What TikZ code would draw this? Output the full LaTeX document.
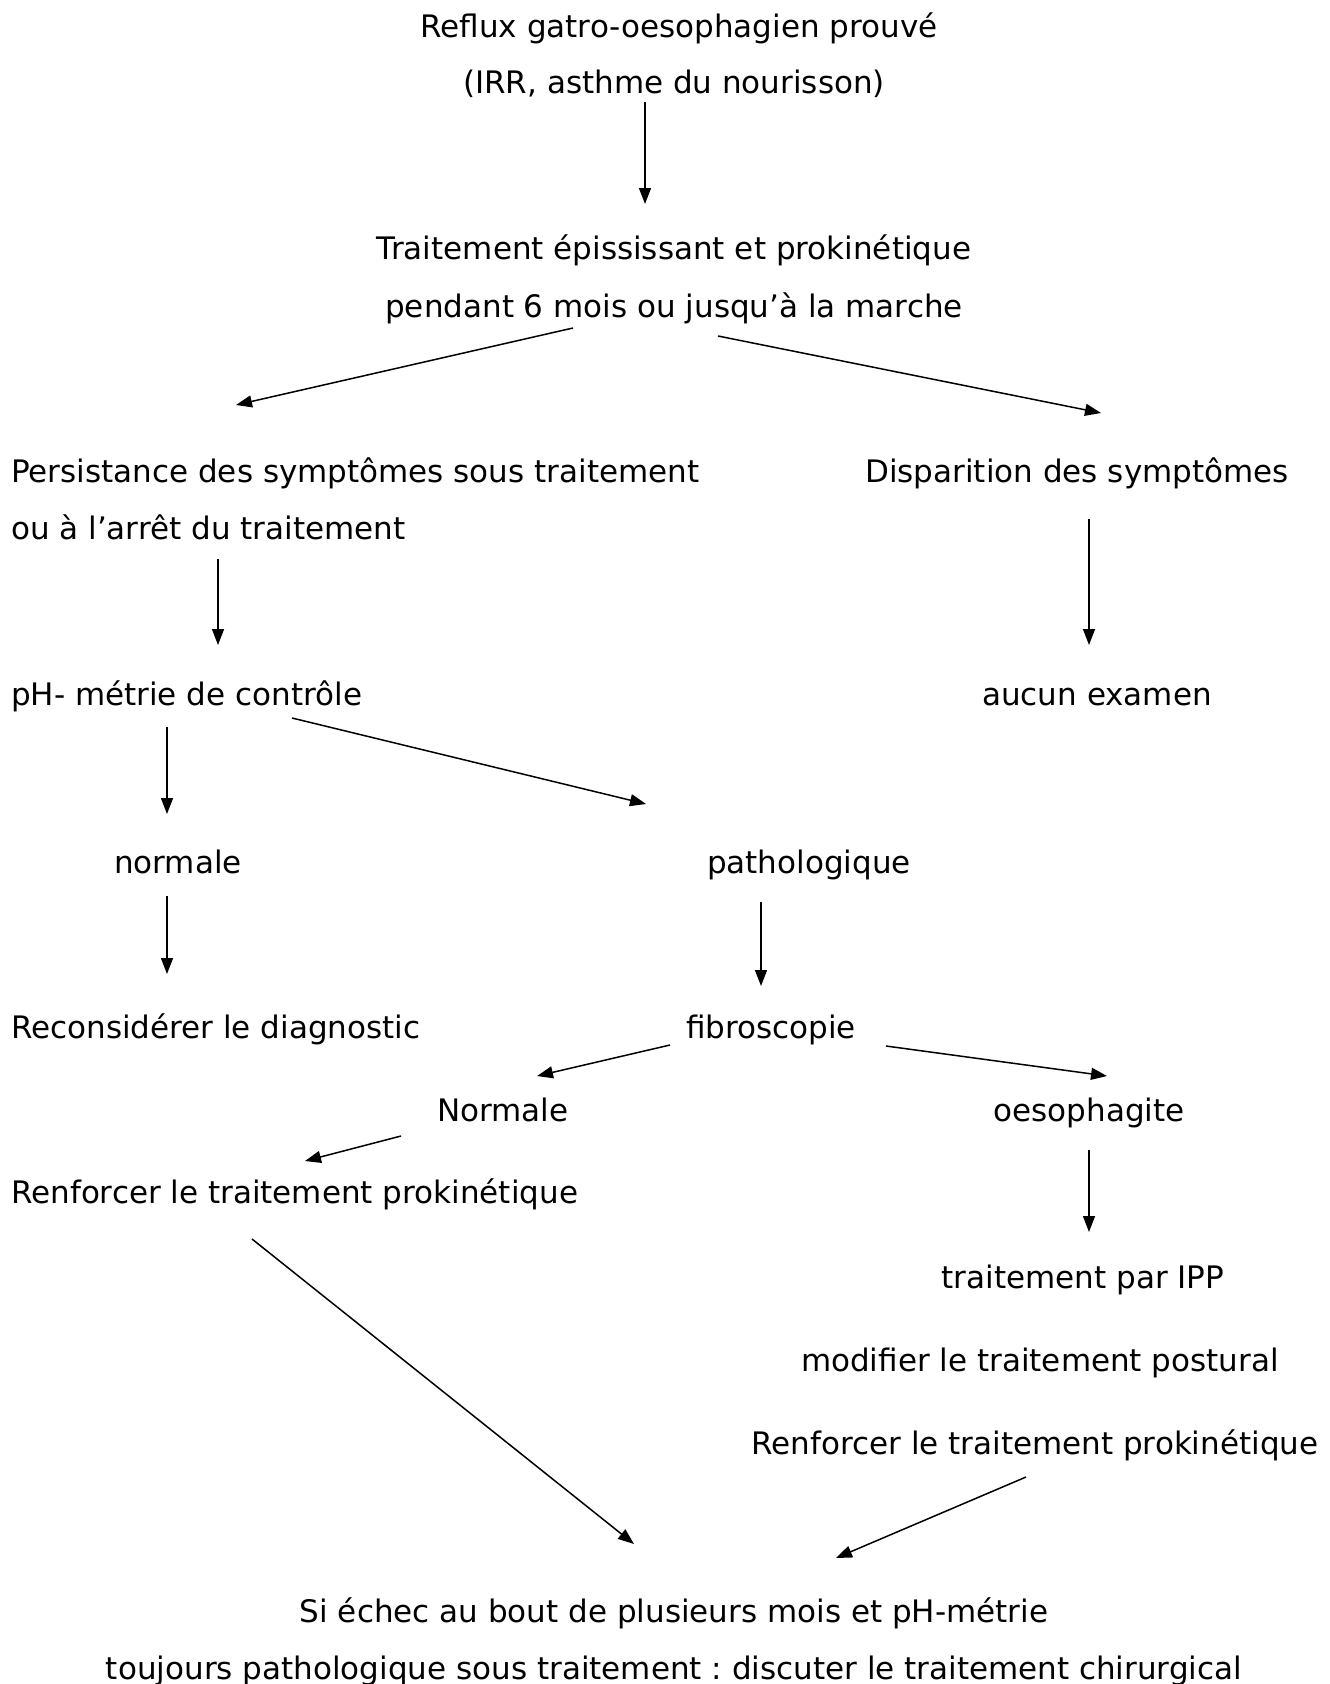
\documentclass[tikz,border=0pt]{standalone}
\usepackage{fontspec}
\setmainfont{DejaVu Sans}
\frenchspacing
\usetikzlibrary{arrows.meta,calc}
\begin{document}
\begin{tikzpicture}[x=1pt,y=-1pt,
  txt/.style={inner sep=0pt,anchor=base,font=\fontsize{31}{37}\selectfont},
  txtl/.style={txt,anchor=base west},
  arr/.style={line width=1.5pt,-{Triangle[length=16pt,width=12pt]}}]
\useasboundingbox[fill=white] (0,0) rectangle (1330,1684);
\node[txt] (r1) at (679,37) {Reflux gatro-oesophagien prouvé};
\node[txt] (r2) at (674,93) {(IRR, asthme du nourisson)};
\node[txt] (t1) at (674,259) {Traitement épississant et prokinétique};
\node[txt] (t2) at (674,317) {pendant 6 mois ou jusqu’à la marche};
\node[txtl] (p1) at (11,482) {Persistance des symptômes sous traitement};
\node[txtl] (p2) at (11,539) {ou à l’arrêt du traitement};
\node[txt] (d) at (1077,482) {Disparition des symptômes};
\node[txtl] (ph) at (11,705) {pH- métrie de contrôle};
\node[txt] (au) at (1097,705) {aucun examen};
\node[txt] (no) at (178,873) {normale};
\node[txt] (pa) at (809,873) {pathologique};
\node[txtl] (rc) at (11,1038) {Reconsidérer le diagnostic};
\node[txt] (fi) at (771,1038) {fibroscopie};
\node[txt] (N) at (503,1121) {Normale};
\node[txt] (oe) at (1089,1121) {oesophagite};
\node[txtl] (rf) at (11,1203) {Renforcer le traitement prokinétique};
\node[txt] (ipp) at (1083,1288) {traitement par IPP};
\node[txt] (mo) at (1040,1371) {modifier le traitement postural};
\node[txt] (rf2) at (1035,1454) {Renforcer le traitement prokinétique};
\node[txt] (s1) at (674,1622) {Si échec au bout de plusieurs mois et pH-métrie};
\node[txt] (s2) at (674,1679) {toujours pathologique sous traitement : discuter le traitement chirurgical};
% connectors
\draw[arr] ($(r2.base)+(-29,9)$) -- ($(t1.base)+(-29,-55)$);
\draw[arr] ($(t2.base)+(-101,11)$) -- ($(p1.base west)+(225,-77)$);
\draw[arr] ($(t2.base)+(44,19)$) -- ($(d.base)+(24,-69)$);
\draw[arr] ($(p2.base west)+(207,20)$) -- ($(ph.base west)+(207,-60)$);
\draw[arr] ($(d.base)+(12,37)$) -- ($(au.base)+(-8,-60)$);
\draw[arr] ($(ph.base west)+(156,22)$) -- ($(no.base)+(-11,-59)$);
\draw[arr] ($(ph.base west)+(281,13)$) -- ($(pa.base)+(-163,-69)$);
\draw[arr] ($(no.base)+(-11,23)$) -- ($(rc.base west)+(156,-64)$);
\draw[arr] ($(pa.base)+(-48,29)$) -- ($(fi.base)+(-10,-52)$);
\draw[arr] ($(fi.base)+(-101,7)$) -- ($(N.base)+(34,-45)$);
\draw[arr] ($(fi.base)+(115,8)$) -- ($(oe.base)+(18,-45)$);
\draw[arr] ($(N.base)+(-102,15)$) -- ($(rf.base west)+(294,-42)$);
\draw[arr] ($(oe.base)+(0,29)$) -- ($(ipp.base)+(6,-56)$);
\draw[arr] ($(rf.base west)+(241,36)$) -- ($(s1.base)+(-40,-78)$);
\draw[arr] ($(rf2.base)+(-9,23)$) -- ($(s1.base)+(162,-64)$);
\end{tikzpicture}
\end{document}
